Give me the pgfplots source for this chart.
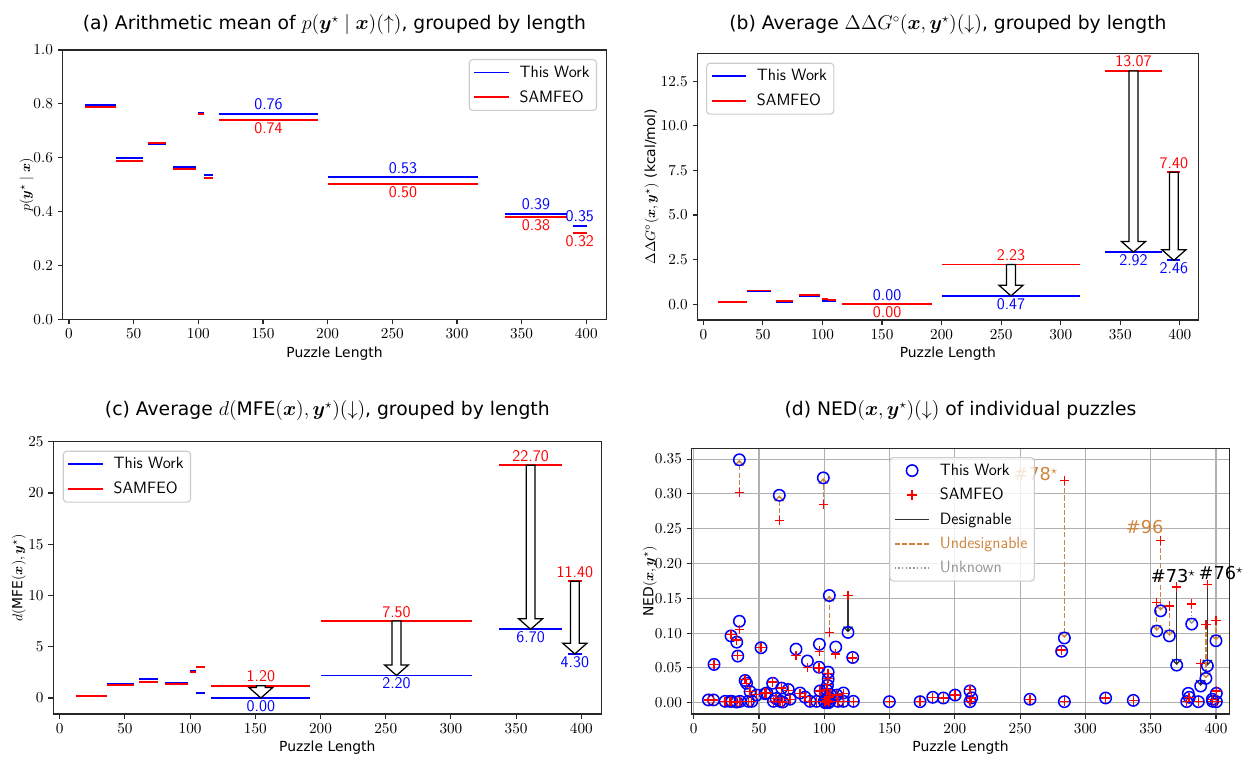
\documentclass[border=0pt]{standalone}
\usepackage[no-math]{fontspec}
\setmainfont{DejaVu Sans}
\usepackage{amsmath}
\usepackage{bm}
\usepackage{pgfplots}
\usepackage{pgfplotstable}
\pgfplotsset{compat=1.18}
\usetikzlibrary{arrows.meta}
\definecolor{peru}{RGB}{205,133,63}
\definecolor{legframe}{RGB}{204,204,204}
\definecolor{gridc}{RGB}{176,176,176}
\definecolor{spine}{RGB}{40,40,40}
\definecolor{unk}{RGB}{150,150,150}

\tikzset{num/.style={font=\sffamily\fontsize{11.7}{13}\selectfont, inner sep=0pt}}

\pgfplotsset{
  mystyle/.style={
    scale only axis, anchor=south west, clip=false,
    axis line style={line width=0.8pt, spine},
    tick align=outside, tick pos=left,
    major tick length=3.5pt,
    tick style={line width=0.8pt, spine},
    tick label style={font=\fontsize{11}{13}\selectfont},
    xtick={0,50,100,150,200,250,300,350,400},
    scaled ticks=false,
    label style={font=\fontsize{10}{12}\selectfont},
    every axis title/.style={font=\fontsize{13.5}{15}\selectfont, anchor=base},
    legend cell align=left,
    legend style={draw=legframe, line width=0.8pt, rounded corners=2.5pt, fill=white, fill opacity=0.8, draw opacity=1, text opacity=1,
      font=\sffamily\fontsize{11.8}{13}\selectfont, inner xsep=3pt, inner ysep=2.5pt, row sep=4pt,
      /tikz/every odd column/.append style={column sep=5pt}},
    legend image code/.code={\draw[##1] (0pt,0pt) -- (25pt,0pt);},
  },
  markleg/.style={legend image code/.code={\draw[mark repeat=2,mark phase=2,##1] plot coordinates {(0pt,0pt) (12.5pt,0pt) (25pt,0pt)};}},
}

% hollow arrow: x, ytop, ybottom
\newcommand{\harrow}[3]{%
  \draw[black, fill=white, line width=0.9pt, line join=miter]
    ([xshift=-3.2pt]axis cs:#1,#2) -- ([xshift=-3.2pt,yshift=7.6pt]axis cs:#1,#3)
    -- ([xshift=-8.6pt,yshift=7.6pt]axis cs:#1,#3) -- (axis cs:#1,#3)
    -- ([xshift=8.6pt,yshift=7.6pt]axis cs:#1,#3) -- ([xshift=3.2pt,yshift=7.6pt]axis cs:#1,#3)
    -- ([xshift=3.2pt]axis cs:#1,#2) -- cycle;}

\pgfplotstableread{
x b r
11.3 0.004 0.004
15.2 0.004 0.004
15.6 0.055 0.055
24.1 0.002 0.002
27.9 0.002 0.002
28.6 0.096 0.098
29.2 0.002 0.002
33.0 0.087 0.090
33.8 0.067 0.068
33.0 0.001 0.001
35.0 0.349 0.302
35.0 0.117 0.105
35.5 0.002 0.002
39.4 0.032 0.033
40.5 0.028 0.028
41.9 0.002 0.002
43.2 0.016 0.016
44.5 0.002 0.002
48.3 0.011 0.012
51.6 0.079 0.079
54.7 0.013 0.014
56.0 0.014 0.014
60.5 0.028 0.030
61.1 0.002 0.002
63.1 0.006 0.006
65.6 0.298 0.262
66.2 0.002 0.002
67.4 0.021 0.021
68.2 0.001 0.001
72.5 0.019 0.018
73.8 0.005 0.005
78.4 0.077 0.068
81.5 0.014 0.013
85.3 0.008 0.009
87.1 0.060 0.051
89.1 0.002 0.002
94.2 0.002 0.002
96.0 0.051 0.050
96.3 0.084 0.074
96.8 0.017 0.017
99.3 0.323 0.285
100.0 0.002 0.002
100.8 0.000 0.000
101.5 0.006 0.006
102.0 0.018 0.019
102.2 0.003 0.003
102.5 0.025 0.026
103.0 0.034 0.035
103.0 0.044 0.042
103.2 0.000 0.001
103.5 0.008 0.008
103.9 0.154 0.101
104.2 0.002 0.002
104.5 0.012 0.012
108.8 0.080 0.070
109.6 0.011 0.011
110.5 0.002 0.002
114.7 0.014 0.013
114.7 0.002 0.002
118.2 0.101 0.154
121.8 0.065 0.064
122.3 0.002 0.002
149.9 0.0015 0.0015
173.4 0.0015 0.0015
183.1 0.0078 0.0078
191.2 0.0068 0.0068
200.2 0.011 0.011
211.6 0.017 0.019
211.6 0.0015 0.0015
212.9 0.007 0.007
257.6 0.005 0.005
281.8 0.074 0.076
283.9 0.093 0.319
283.9 0.0015 0.0015
315.5 0.0068 0.0068
336.7 0.0034 0.0034
354.6 0.103 0.144
357.6 0.132 0.233
364.3 0.096 0.139
369.9 0.054 0.166
377.6 0.0017 0.0017
378.8 0.0135 0.0078
379.6 0.0078 0.0078
381.4 0.113 0.142
386.5 0.0015 0.0015
388.3 0.024 0.056
392.3 0.035 0.112
393.4 0.053 0.170
397.2 0.005 0.005
397.4 0.002 0.002
400.0 0.089 0.118
400.3 0.0135 0.017
400.3 0.0015 0.0015
}\ned

\pgfplotstableread{
x y b
118.2 0.154 0.101
369.9 0.166 0.054
393.4 0.170 0.053
388.3 0.056 0.024
}\desig

\pgfplotstableread{
x y b
35.0 0.302 0.349
65.6 0.262 0.298
99.3 0.285 0.323
103.9 0.101 0.154
283.9 0.319 0.093
354.6 0.144 0.103
357.6 0.233 0.132
364.3 0.139 0.096
392.3 0.112 0.035
400.0 0.118 0.089
}\undes

\pgfplotstableread{
x y b
381.4 0.142 0.113
}\unkn

\begin{document}
\begin{tikzpicture}[x=1pt,y=1pt]
\path (0,0) rectangle (899.28,545.04);

% ---------------- (a)
\begin{axis}[mystyle, at={(45.14pt,315.14pt)}, width=391.4pt, height=193.9pt,
  xmin=-4.9, xmax=415.5, ymin=0, ymax=1,
  ytick={0,0.2,0.4,0.6,0.8,1},
  yticklabel style={/pgf/number format/.cd, fixed, fixed zerofill, precision=1},
  xlabel={Puzzle Length}, ylabel={$p(\bm{y}^{\star}\mid\bm{x})$},
  xlabel style={at={(axis description cs:0.5,-0.129)}, anchor=center},
  ylabel style={at={(axis description cs:-0.0662,0.5)}, anchor=center},
  title={(a) Arithmetic mean of $p(\bm{y}^{\star}\mid\bm{x})(\uparrow)$, grouped by length},
  title style={at={(axis description cs:0.5,1.0743)}},
  legend style={at={(0.983,0.9666)}, anchor=north east}]
\addplot[blue, line width=1.3pt, unbounded coords=jump] coordinates {
(12.4,0.795) (36.3,0.795) (36.3,nan)
(36.3,0.598) (57.2,0.598) (57.2,nan)
(61.1,0.651) (75.2,0.651) (75.2,nan)
(80.4,0.567) (98.2,0.567) (98.2,nan)
(100,0.765) (104.4,0.765) (104.4,nan)
(104.4,0.537) (111.1,0.537) (111.1,nan)
(116.2,0.763) (192.3,0.763) (192.3,nan)
(200.5,0.527) (316,0.527) (316,nan)
(337.2,0.391) (385,0.391) (385,nan)
(389.5,0.347) (400.4,0.347)};
\addlegendentry{This Work}
\addplot[red, line width=1.3pt, unbounded coords=jump] coordinates {
(12.4,0.789) (36.3,0.789) (36.3,nan)
(36.3,0.589) (57.2,0.589) (57.2,nan)
(61.1,0.656) (75.2,0.656) (75.2,nan)
(80.4,0.559) (98.2,0.559) (98.2,nan)
(100,0.762) (104.4,0.762) (104.4,nan)
(104.4,0.525) (111.1,0.525) (111.1,nan)
(116.2,0.739) (192.3,0.739) (192.3,nan)
(200.5,0.502) (316,0.502) (316,nan)
(337.2,0.381) (385,0.381) (385,nan)
(389.5,0.321) (400.4,0.321)};
\addlegendentry{SAMFEO}
\node[num, blue, anchor=south, yshift=2.5pt] at (axis cs:154.25,0.763) {0.76};
\node[num, red, anchor=north, yshift=-1.5pt] at (axis cs:154.25,0.739) {0.74};
\node[num, blue, anchor=south, yshift=2.5pt] at (axis cs:258.25,0.527) {0.53};
\node[num, red, anchor=north, yshift=-1.5pt] at (axis cs:258.25,0.502) {0.50};
\node[num, blue, anchor=south, yshift=2.5pt] at (axis cs:361.1,0.391) {0.39};
\node[num, red, anchor=north, yshift=-1.5pt] at (axis cs:361.1,0.381) {0.38};
\node[num, blue, anchor=south, yshift=2.5pt] at (axis cs:395,0.347) {0.35};
\node[num, red, anchor=north, yshift=-1.5pt] at (axis cs:395,0.321) {0.32};
\end{axis}

% ---------------- (b)
\begin{axis}[mystyle, at={(502.2pt,314.64pt)}, width=360.58pt, height=192.02pt,
  xmin=-4.9, xmax=415.5, ymin=-0.88, ymax=14.06,
  ytick={0,2.5,5,7.5,10,12.5},
  yticklabel style={/pgf/number format/.cd, fixed, fixed zerofill, precision=1},
  xlabel={Puzzle Length}, ylabel={$\Delta\Delta G^{\circ}(\bm{x},\bm{y}^{\star})$ (kcal/mol)},
  xlabel style={at={(axis description cs:0.5,-0.1275)}, anchor=center},
  ylabel style={at={(axis description cs:-0.0915,0.5)}, anchor=center},
  title={(b) Average $\Delta\Delta G^{\circ}(\bm{x},\bm{y}^{\star})(\downarrow)$, grouped by length},
  title style={at={(axis description cs:0.5,1.0874)}},
  legend style={at={(0.017,0.9648)}, anchor=north west}]
\addplot[blue, line width=1.3pt, unbounded coords=jump] coordinates {
(12.4,0.14) (36.3,0.14) (36.3,nan)
(36.3,0.76) (57.2,0.76) (57.2,nan)
(61.1,0.11) (75.2,0.11) (75.2,nan)
(80.4,0.46) (98.2,0.46) (98.2,nan)
(100,0.17) (104.4,0.17) (104.4,nan)
(104.4,0.20) (111.1,0.20) (111.1,nan)
(116.2,0.0) (192.3,0.0) (192.3,nan)
(200.5,0.47) (316,0.47) (316,nan)
(337.2,2.92) (385,2.92) (385,nan)
(389.5,2.46) (400.4,2.46)};
\addlegendentry{This Work}
\addplot[red, line width=1.3pt, unbounded coords=jump] coordinates {
(12.4,0.12) (36.3,0.12) (36.3,nan)
(36.3,0.77) (57.2,0.77) (57.2,nan)
(61.1,0.17) (75.2,0.17) (75.2,nan)
(80.4,0.54) (98.2,0.54) (98.2,nan)
(100,0.30) (104.4,0.30) (104.4,nan)
(104.4,0.22) (111.1,0.22) (111.1,nan)
(116.2,0.0) (192.3,0.0) (192.3,nan)
(200.5,2.23) (316,2.23) (316,nan)
(337.2,13.07) (385,13.07) (385,nan)
(389.5,7.40) (400.4,7.40)};
\addlegendentry{SAMFEO}
\harrow{258.25}{2.23}{0.47}
\harrow{361.1}{13.07}{2.92}
\harrow{395}{7.40}{2.46}
\node[num, blue, anchor=south, yshift=2.5pt] at (axis cs:154.25,0) {0.00};
\node[num, red, anchor=north, yshift=-1.5pt] at (axis cs:154.25,0) {0.00};
\node[num, red, anchor=south, yshift=2.5pt] at (axis cs:258.25,2.23) {2.23};
\node[num, blue, anchor=north, yshift=-1.5pt] at (axis cs:258.25,0.47) {0.47};
\node[num, red, anchor=south, yshift=2.5pt] at (axis cs:361.1,13.07) {13.07};
\node[num, blue, anchor=north, yshift=-1.5pt] at (axis cs:361.1,2.92) {2.92};
\node[num, red, anchor=south, yshift=2.5pt] at (axis cs:395,7.40) {7.40};
\node[num, blue, anchor=north, yshift=-1.5pt] at (axis cs:395,2.46) {2.46};
\end{axis}

% ---------------- (c)
\begin{axis}[mystyle, at={(38.38pt,30.96pt)}, width=394.56pt, height=196.06pt,
  xmin=-4.9, xmax=415.3, ymin=-1.56, ymax=25,
  ytick={0,5,10,15,20,25},
  xlabel={Puzzle Length}, ylabel={$d(\text{MFE}(\bm{x}),\bm{y}^{\star})$},
  xlabel style={at={(axis description cs:0.5,-0.125)}, anchor=center},
  ylabel style={at={(axis description cs:-0.0626,0.5)}, anchor=center},
  title={(c) Average $d(\text{MFE}(\bm{x}),\bm{y}^{\star})(\downarrow)$, grouped by length},
  title style={at={(axis description cs:0.5,1.0944)}},
  legend style={at={(0.0172,0.967)}, anchor=north west}]
\addplot[blue, line width=1.3pt, unbounded coords=jump] coordinates {
(12.4,0.2) (36.3,0.2) (36.3,nan)
(36.3,1.4) (57.2,1.4) (57.2,nan)
(61.1,1.85) (75.2,1.85) (75.2,nan)
(80.4,1.5) (98.2,1.5) (98.2,nan)
(100,2.6) (104.4,2.6) (104.4,nan)
(104.4,0.5) (111.1,0.5) (111.1,nan)
(116.2,0.0) (192.3,0.0) (192.3,nan)
(200.5,2.2) (316,2.2) (316,nan)
(337.2,6.7) (385,6.7) (385,nan)
(389.5,4.3) (400.4,4.3)};
\addlegendentry{This Work}
\addplot[red, line width=1.3pt, unbounded coords=jump] coordinates {
(12.4,0.2) (36.3,0.2) (36.3,nan)
(36.3,1.3) (57.2,1.3) (57.2,nan)
(61.1,1.55) (75.2,1.55) (75.2,nan)
(80.4,1.4) (98.2,1.4) (98.2,nan)
(100,2.5) (104.4,2.5) (104.4,nan)
(104.4,3.0) (111.1,3.0) (111.1,nan)
(116.2,1.2) (192.3,1.2) (192.3,nan)
(200.5,7.5) (316,7.5) (316,nan)
(337.2,22.7) (385,22.7) (385,nan)
(389.5,11.4) (400.4,11.4)};
\addlegendentry{SAMFEO}
\harrow{154.25}{1.2}{0}
\harrow{258.25}{7.5}{2.2}
\harrow{361.1}{22.7}{6.7}
\harrow{395}{11.4}{4.3}
\node[num, red, anchor=south, yshift=2.5pt] at (axis cs:154.25,1.2) {1.20};
\node[num, blue, anchor=north, yshift=-1.5pt] at (axis cs:154.25,0) {0.00};
\node[num, red, anchor=south, yshift=2.5pt] at (axis cs:258.25,7.5) {7.50};
\node[num, blue, anchor=north, yshift=-1.5pt] at (axis cs:258.25,2.2) {2.20};
\node[num, red, anchor=south, yshift=2.5pt] at (axis cs:361.1,22.7) {22.70};
\node[num, blue, anchor=north, yshift=-1.5pt] at (axis cs:361.1,6.7) {6.70};
\node[num, red, anchor=south, yshift=2.5pt] at (axis cs:395,11.4) {11.40};
\node[num, blue, anchor=north, yshift=-1.5pt] at (axis cs:395,4.3) {4.30};
\end{axis}

% ---------------- (d)
\begin{axis}[mystyle, at={(498.02pt,30.96pt)}, width=387.07pt, height=191.3pt,
  xmin=-1.5, xmax=410.2, ymin=-0.0162, ymax=0.3655,
  ytick={0,0.05,0.1,0.15,0.2,0.25,0.3,0.35},
  yticklabel style={/pgf/number format/.cd, fixed, fixed zerofill, precision=2},
  grid=major, grid style={line width=0.8pt, gridc},
  xlabel={Puzzle Length}, ylabel={NED$(\bm{x},\bm{y}^{\star})$},
  xlabel style={at={(axis description cs:0.5,-0.128)}, anchor=center},
  ylabel style={at={(axis description cs:-0.0776,0.5)}, anchor=center},
  title={(d) NED$(\bm{x},\bm{y}^{\star})(\downarrow)$ of individual puzzles},
  title style={at={(axis description cs:0.5,1.1216)}},
  legend style={at={(0.3676,0.967)}, anchor=north west, row sep=3.8pt}]
\addplot[only marks, mark=o, blue, mark size=4.1pt, mark options={line width=1.1pt}, markleg]
  table[x=x,y=b]{\ned};
\addlegendentry{This Work}
\addplot[only marks, mark=+, red, mark size=3.4pt, mark options={line width=1.0pt}, markleg]
  table[x=x,y=r]{\ned};
\addlegendentry{SAMFEO}
\addplot[forget plot, black, opacity=0.8, line width=1pt, -{Straight Barb[length=3.5pt,width=6.5pt]},
  quiver={u=0, v=\thisrow{b}-\thisrow{y}}] table[x=x,y=y]{\desig};
\addplot[forget plot, peru, line width=1pt, dash pattern=on 3.7pt off 1.6pt, -{Straight Barb[length=3.5pt,width=6.5pt]},
  quiver={u=0, v=\thisrow{b}-\thisrow{y}}] table[x=x,y=y]{\undes};
\addplot[forget plot, unk, line width=1pt, dash pattern=on 1pt off 1.65pt, -{Straight Barb[length=3.5pt,width=6.5pt]},
  quiver={u=0, v=\thisrow{b}-\thisrow{y}}] table[x=x,y=y]{\unkn};
\addlegendimage{black, opacity=0.8, line width=1pt}
\addlegendentry{Designable}
\addlegendimage{peru, line width=1pt, dash pattern=on 3.7pt off 1.6pt}
\addlegendentry{\textcolor{peru}{Undesignable}}
\addlegendimage{unk, line width=1pt, dash pattern=on 1pt off 1.65pt}
\addlegendentry{\textcolor{unk}{Unknown}}
\node[font=\fontsize{12.8}{15}\selectfont, text=peru, inner sep=0pt] at (axis cs:262.0,0.3286) {\#78$^{\star}$};
\node[font=\fontsize{12.8}{15}\selectfont, text=peru, inner sep=0pt] at (axis cs:345.4,0.2529) {\#96};
\node[font=\fontsize{12.8}{15}\selectfont, text=black, inner sep=0pt] at (axis cs:367.3,0.1816) {\#73$^{\star}$};
\node[font=\fontsize{12.8}{15}\selectfont, text=black, inner sep=0pt] at (axis cs:403.8,0.1860) {\#76$^{\star}$};
\end{axis}
\end{tikzpicture}
\end{document}
